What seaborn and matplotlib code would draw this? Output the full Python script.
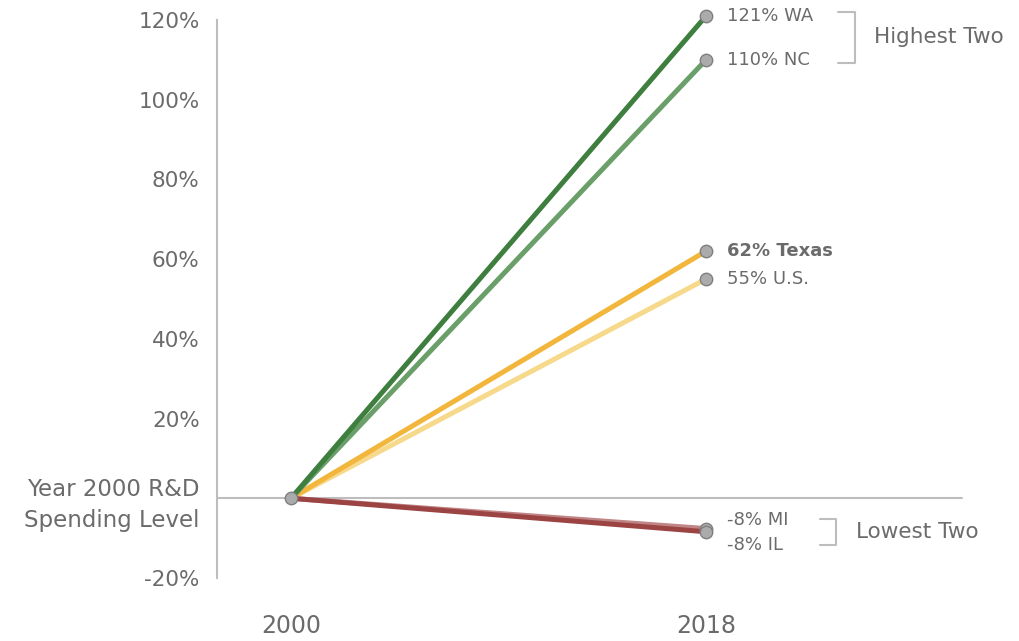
import numpy as np
import pandas as pd
import matplotlib.pyplot as plt
import seaborn as sns

# growth in R&D spending, 2000 -> 2018 (percent change from year 2000 level)
YEARS = ["2000", "2018"]
STATES = ["U.S.", "Texas", "NC", "WA", "MI", "IL"]
START = [0, 0, 0, 0, 0, 0]
END = [55, 62, 110, 121, -7.6, -8.4]
END_LABELS = ["55% U.S.", "62% Texas", "110% NC", "121% WA", "-8% MI", "-8% IL"]
LABEL_Y = [55, 62, 110, 121, -5.5, -11.8]
COLORS = ["#f6d98a", "#f2b63c", "#6a9f6a", "#3e7e3e", "#c08585", "#9c4444"]
YTICKS = [-20, 0, 20, 40, 60, 80, 100, 120]

GRAY = "#6b6b6b"
LINEGRAY = "#bdbdbd"

sns.set_style("white")
plt.rcParams["font.family"] = ["DejaVu Sans"]

df = pd.DataFrame({
    "state": np.repeat(STATES, 2),
    "x": [0, 1] * len(STATES),
    "pct": [v for pair in zip(START, END) for v in pair],
})

fig = plt.figure(figsize=(10.2, 6.41), dpi=100)
ax = fig.add_axes([217 / 1020, 63 / 641, 745 / 1020, 558 / 641])

ax.axhline(0, color=LINEGRAY, lw=1.5, zorder=1)

sns.lineplot(data=df, x="x", y="pct", hue="state", hue_order=STATES,
             palette=dict(zip(STATES, COLORS)), linewidth=3.6,
             legend=False, ax=ax, zorder=2)
for ln in ax.get_lines():
    ln.set_clip_on(False)

ax.scatter([1] * len(END), END, s=80, color="#ababab", edgecolor="#7f7f7f",
           linewidth=1, zorder=4, clip_on=False)
ax.scatter([0], [0], s=80, color="#ababab", edgecolor="#7f7f7f",
           linewidth=1, zorder=4, clip_on=False)

for lab, y in zip(END_LABELS, LABEL_Y):
    ax.text(1.05, y, lab, ha="left", va="center", fontsize=13, color=GRAY,
            fontweight="bold" if "Texas" in lab else "normal")

# brackets
bk = dict(color=LINEGRAY, lw=1.5, clip_on=False)
ax.plot([1.318, 1.359, 1.359, 1.318], [122, 122, 109.3, 109.3], **bk)
ax.text(1.404, 115.7, "Highest Two", ha="left", va="center", fontsize=15.5, color=GRAY)
ax.plot([1.275, 1.313, 1.313, 1.275], [-5.2, -5.2, -11.8, -11.8], **bk)
ax.text(1.361, -8.5, "Lowest Two", ha="left", va="center", fontsize=15.5, color=GRAY)

ax.set_xlim(-74 / 415, 671 / 415)
ax.set_ylim(-20, 120)
ax.set_xticks([0, 1])
ax.set_xticklabels(YEARS)
ax.set_yticks(YTICKS)
ax.set_yticklabels(["Year 2000 R&D\nSpending Level" if t == 0 else f"{t}%" for t in YTICKS])
ax.tick_params(axis="both", length=0, labelsize=15.5, labelcolor=GRAY)
ax.tick_params(axis="x", pad=26, labelsize=17)
ax.tick_params(axis="y", pad=12.5)
for t in ax.get_yticklabels():
    t.set_linespacing(1.45)
    if "\n" in t.get_text():
        t.set_fontsize(16.5)
ax.set_xlabel("")
ax.set_ylabel("")

for side in ["top", "right", "bottom"]:
    ax.spines[side].set_visible(False)
ax.spines["left"].set_color(LINEGRAY)
ax.spines["left"].set_linewidth(1.5)

fig.savefig("out.png", dpi=100)
